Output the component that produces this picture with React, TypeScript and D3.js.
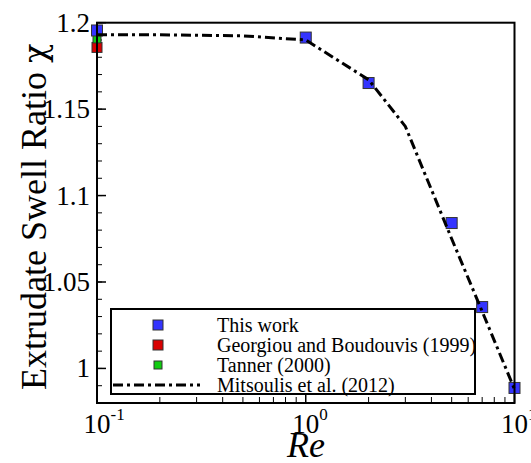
import React from "react";
import * as d3 from "d3";

// Extrudate swell ratio versus Reynolds number
const reThisWork = [0.1, 1, 2, 5, 7, 10];
const chiThisWork = [1.1955, 1.1914, 1.1651, 1.0841, 1.0355, 0.9887];

const reGeorgiou = [0.1];
const chiGeorgiou = [1.1857];

const reTanner = [0.1];
const chiTanner = [1.1906];

const reMitsoulis = [0.1, 0.2, 0.5, 1, 2, 3, 5, 7, 10];
const chiMitsoulis = [1.193, 1.193, 1.1924, 1.19, 1.167, 1.14, 1.075, 1.033, 0.988];

const yMajorTicks = [1, 1.05, 1.1, 1.15, 1.2];
const yTickLabels = ["1", "1.05", "1.1", "1.15", "1.2"];
const xMajorTicks = [0.1, 1, 10];
const xTickExponents = ["-1", "0", "1"];

const legendLabels = [
  "This work",
  "Georgiou and Boudouvis (1999)",
  "Tanner (2000)",
  "Mitsoulis et al. (2012)",
];

const W = 531;
const H = 463;
const left = 97;
const right = 514.5;
const top = 22.7;
const bottom = 403;

const FONT = "Liberation Serif";
const GREEK_FONT = "DejaVu Serif";
const BLUE = "#3434ff";
const RED = "#d80000";
const GREEN = "#10cc10";

export default function App() {
  const x = d3.scaleLog().domain([0.1, 10]).range([left, right]);
  const y = d3.scaleLinear().domain([0.98, 1.2]).range([bottom, top]);

  const line = d3
    .line<number>()
    .x((_, i) => x(reMitsoulis[i]))
    .y((d) => y(d));

  const yMinor = d3.range(0.98, 1.2001, 0.01).map((v) => +v.toFixed(2));
  const xMinor: number[] = [];
  [0.1, 1].forEach((dec) => {
    for (let k = 2; k <= 9; k++) xMinor.push(+(k * dec).toFixed(2));
  });

  const square = (cx: number, cy: number, s: number, fill: string, key: string) => (
    <rect
      key={key}
      x={cx - s / 2}
      y={cy - s / 2}
      width={s}
      height={s}
      fill={fill}
      stroke="#333"
      strokeWidth={1}
    />
  );

  const legX = 111;
  const legY = 309;
  const legW = 364;
  const legH = 85;
  const rowY = [325, 345, 365, 385];

  return (
    <svg width={W} height={H} style={{ position: "absolute", left: 0, top: 0, background: "#fff" }}>
      <rect x={0} y={0} width={W} height={H} fill="#fff" />

      {/* ticks on left axis */}
      {yMinor.map((v) => (
        <line key={"ym" + v} x1={left} x2={left + 5} y1={y(v)} y2={y(v)} stroke="#000" strokeWidth={1} />
      ))}
      {yMajorTicks.map((v, i) => (
        <g key={"yM" + v}>
          <line x1={left} x2={left + 9} y1={y(v)} y2={y(v)} stroke="#000" strokeWidth={1.5} />
          <text x={left - 7} y={y(v) + 9} textAnchor="end" fontSize={27} fontFamily={FONT}>
            {yTickLabels[i]}
          </text>
        </g>
      ))}

      {/* ticks on bottom axis */}
      {xMinor.map((v) => (
        <line key={"xm" + v} x1={x(v)} x2={x(v)} y1={bottom} y2={bottom - 6} stroke="#000" strokeWidth={1} />
      ))}
      {xMajorTicks.map((v, i) => (
        <g key={"xM" + v}>
          <line x1={x(v)} x2={x(v)} y1={bottom} y2={bottom - 10} stroke="#000" strokeWidth={1.5} />
          <text x={x(v) - 13.5} y={433} fontSize={27} fontFamily={FONT}>
            10
            <tspan dy={-13} fontSize={17}>
              {xTickExponents[i]}
            </tspan>
          </text>
        </g>
      ))}

      {/* data markers */}
      {reGeorgiou.map((r, i) => square(x(r), y(chiGeorgiou[i]), 10, RED, "g" + i))}
      {reTanner.map((r, i) => square(x(r), y(chiTanner[i]), 8, GREEN, "t" + i))}
      {reThisWork.map((r, i) => square(x(r), y(chiThisWork[i]), 11, BLUE, "w" + i))}

      {/* Mitsoulis et al. curve */}
      <path
        d={line(chiMitsoulis) || ""}
        fill="none"
        stroke="#000"
        strokeWidth={3}
        strokeDasharray="10,4,3,4"
      />

      {/* frame */}
      <rect x={left} y={top} width={right - left} height={bottom - top} fill="none" stroke="#000" strokeWidth={2} />

      {/* legend */}
      <rect x={legX} y={legY} width={legW} height={legH} fill="#fff" stroke="#000" strokeWidth={2} />
      {square(158, rowY[0], 10, BLUE, "lb")}
      {square(158, rowY[1], 10, RED, "lr")}
      {square(158, rowY[2], 8, GREEN, "lg")}
      <line x1={113} x2={200} y1={rowY[3]} y2={rowY[3]} stroke="#000" strokeWidth={3} strokeDasharray="10,4,3,4" />
      {legendLabels.map((t, i) => (
        <text key={t} x={217} y={rowY[i] + 7} fontSize={20} fontFamily={FONT}>
          {t}
        </text>
      ))}

      {/* axis titles */}
      <text
        transform={`translate(46,${(top + bottom) / 2 + 4}) rotate(-90)`}
        textAnchor="middle"
        fontSize={36}
        fontFamily={FONT}
      >
        Extrudate Swell Ratio{" "}
        <tspan fontFamily={GREEK_FONT} fontSize={32}>
          χ
        </tspan>
      </text>
      <text x={306} y={457} textAnchor="middle" fontSize={36} fontStyle="italic" fontFamily={FONT}>
        Re
      </text>
    </svg>
  );
}
